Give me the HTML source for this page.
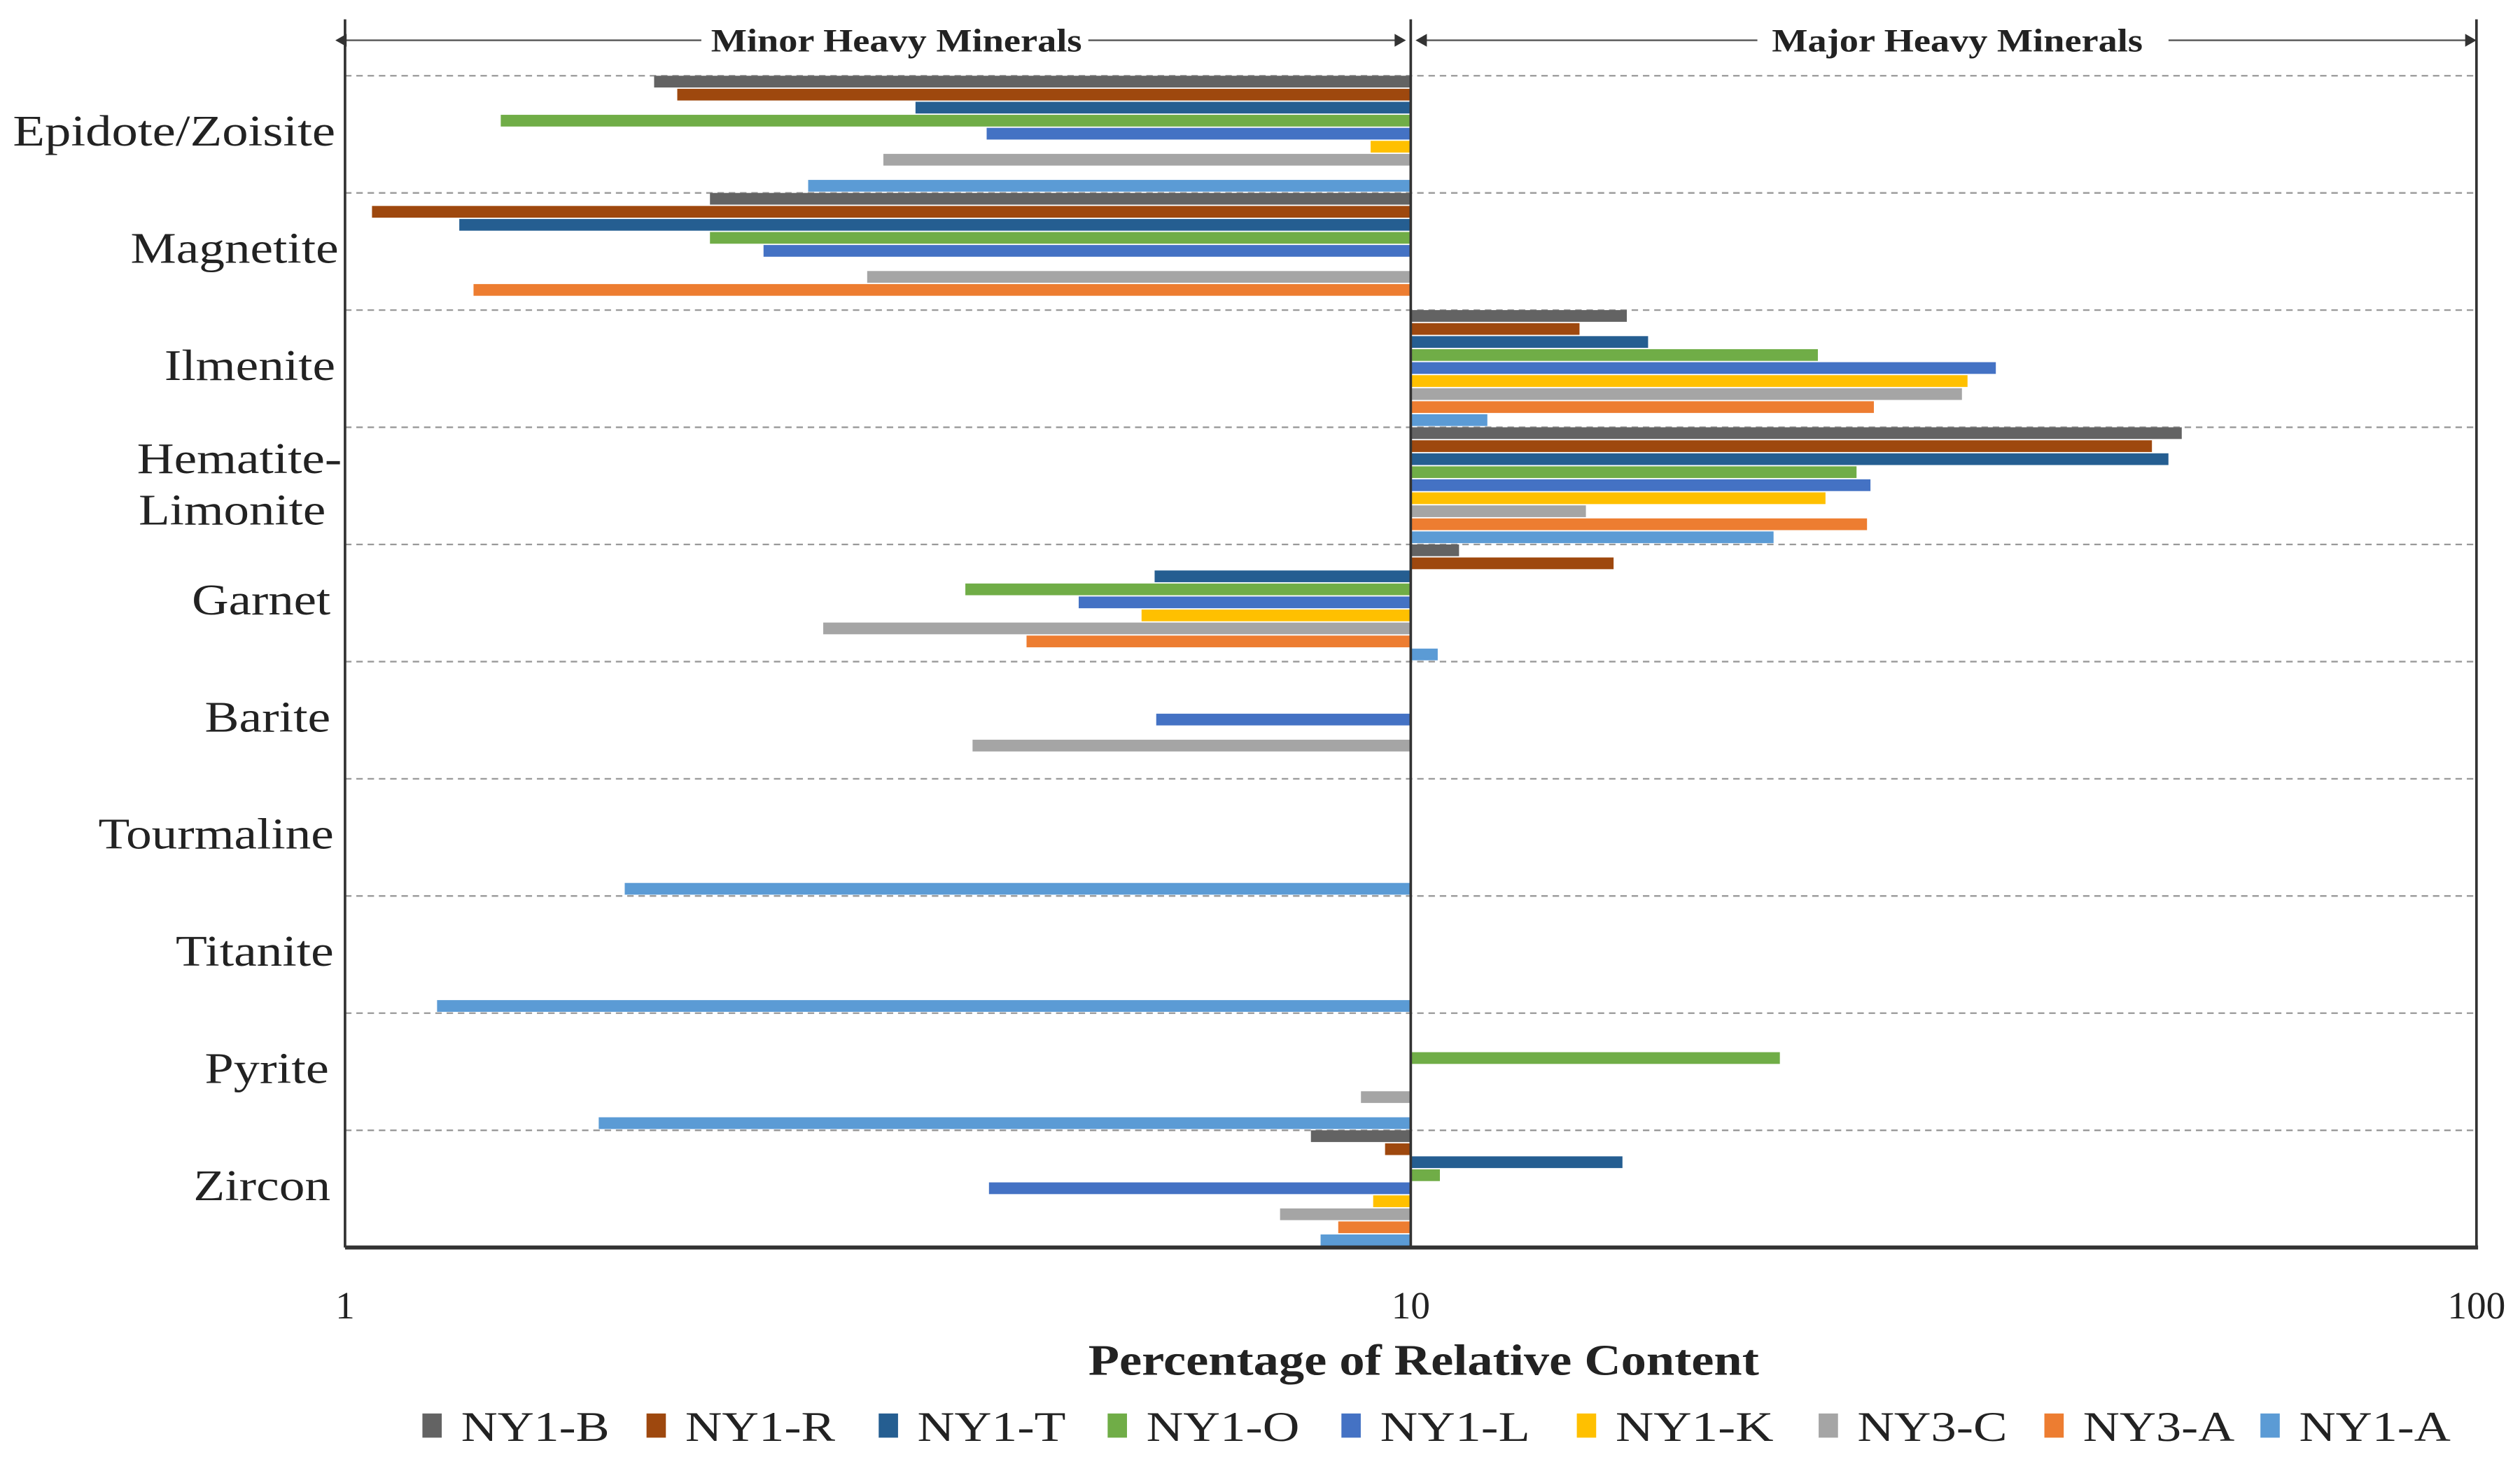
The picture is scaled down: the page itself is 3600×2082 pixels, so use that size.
<!DOCTYPE html>
<html><head><meta charset="utf-8"><style>
html,body{margin:0;padding:0;background:#fff;width:3600px;height:2082px;overflow:hidden}
svg{display:block}
text{font-family:"Liberation Serif",serif;fill:#222}
</style></head><body>
<svg id="chart" width="3600" height="2082" viewBox="0 0 1563 904" preserveAspectRatio="none" xmlns="http://www.w3.org/2000/svg">
<g id="grid"></g><g id="bars"></g><g id="axes"></g><g id="labels"></g><g id="legend"></g>
</svg>
<script>
const categories = ["Epidote/Zoisite","Magnetite","Ilmenite","Hematite-Limonite","Garnet","Barite","Tourmaline","Titanite","Pyrite","Zircon"];
const seriesNames = ["NY1-B","NY1-R","NY1-T","NY1-O","NY1-L","NY1-K","NY3-C","NY3-A","NY1-A"];
const seriesColors = ["#636363","#9e480e","#255e91","#70ad47","#4472c4","#ffc000","#a5a5a5","#ed7d31","#5b9bd5"];
const sNY1B = [1.95,2.2,15.95,52.9,11.1,null,null,null,null,8.06];
const sNY1R = [2.05,1.06,14.4,49.6,15.5,null,null,null,null,9.46];
const sNY1T = [3.43,1.28,16.7,51.4,5.75,null,null,null,null,15.8];
const sNY1O = [1.4,2.2,24.1,26.2,3.82,null,null,null,22.2,10.65];
const sNY1L = [4.0,2.47,35.4,27.0,4.88,5.77,null,null,null,4.02];
const sNY1K = [9.17,null,33.3,24.5,5.59,null,null,null,null,9.22];
const sNY3C = [3.2,3.09,32.9,14.6,2.81,3.88,null,null,8.98,7.54];
const sNY3A = [null,1.32,27.2,26.8,4.36,null,null,null,null,8.55];
const sNY1A = [2.72,null,11.8,21.9,10.6,null,1.83,1.22,1.73,8.23];
const allSeries = [sNY1B,sNY1R,sNY1T,sNY1O,sNY1L,sNY1K,sNY3C,sNY3A,sNY1A];
const xTicks = [1,10,100];

const NS="http://www.w3.org/2000/svg";
const L=214,R=1536,TOP=12,BOT=774,BAND0=47,BAND=72.7;
const xScale=v=>L+Math.log10(v)*(R-L)/2;
const barH=BAND/9;
function mk(tag,attrs,parent,txt){const e=document.createElementNS(NS,tag);for(const k in attrs)e.setAttribute(k,attrs[k]);if(txt!==undefined)e.textContent=txt;parent.appendChild(e);return e;}
const gGrid=document.getElementById('grid'),gBars=document.getElementById('bars'),gAxes=document.getElementById('axes'),gLab=document.getElementById('labels'),gLeg=document.getElementById('legend');

for(let i=0;i<categories.length;i++){
  const y=BAND0+i*BAND;
  const gl=mk('line',{x1:L,x2:R,y1:y,y2:y,stroke:'#999','stroke-width':1,'stroke-dasharray':'4,3'},gGrid);
  
  
}
const base=xScale(10);
allSeries.forEach((s,j)=>{
  s.forEach((v,i)=>{
    if(v==null)return;
    const x=xScale(v);
    const y=BAND0+i*BAND+j*barH;
    const r=mk('rect',{x:Math.min(x,base),y:y,width:Math.abs(x-base),height:barH-0.8,fill:seriesColors[j]},gBars);
    
    
  });
});
[[L,'left-axis'],[base,'center-axis'],[R,'right-axis']].forEach(([x,n])=>{
  const a=mk('line',{x1:x,x2:x,y1:TOP,y2:BOT,stroke:'#333','stroke-width':1.6},gAxes);
  
  
});
const xa=mk('line',{x1:L,x2:R+1,y1:BOT,y2:BOT,stroke:'#333','stroke-width':2.5},gAxes);


xTicks.forEach(t=>{
  const tx=mk('text',{x:xScale(t),y:818,'font-size':24,'text-anchor':'middle'},gLab,String(t));
  
  
});
const hdr=[[210,435],[675,870],[880,1090],[1345,1533]];
hdr.forEach((h,k)=>{
  const ln=mk('line',{x1:h[0],x2:h[1],y1:25,y2:25,stroke:'#555','stroke-width':1},gAxes);
  
  
});
[[208,1],[872,-1],[878,1],[1536,-1]].forEach(([x,d],k)=>{
  const p=mk('path',{d:`M${x} 25 l${d*7} -4 l0 8 z`,fill:'#333'},gAxes);
  
  
});
const h1=mk('text',{x:441,y:32,'font-size':20,'font-weight':'bold',textLength:230,lengthAdjust:'spacingAndGlyphs'},gLab,'Minor Heavy Minerals');


const h2=mk('text',{x:1099,y:32,'font-size':20,'font-weight':'bold',textLength:230,lengthAdjust:'spacingAndGlyphs'},gLab,'Major Heavy Minerals');


const catBox=[[8,200],[81,129],[102,106],null,[119,86],[127,78],[61,146],[109,98],[127,77],[120,85]];
categories.forEach((c,i)=>{
  const cy=BAND0+i*BAND+BAND/2;
  if(c==="Hematite-Limonite"){
    const a=mk('text',{x:85,y:cy-8,'font-size':27,textLength:127,lengthAdjust:'spacingAndGlyphs'},gLab,'Hematite-');
    
    
    const b=mk('text',{x:86,y:cy+24,'font-size':27,textLength:116,lengthAdjust:'spacingAndGlyphs'},gLab,'Limonite');
    
    
  } else {
    const t=mk('text',{x:catBox[i][0],y:cy+7,'font-size':27,textLength:catBox[i][1],lengthAdjust:'spacingAndGlyphs'},gLab,c);
    
    
  }
});
const at=mk('text',{x:675,y:853,'font-size':27,'font-weight':'bold',textLength:416,lengthAdjust:'spacingAndGlyphs'},gLab,'Percentage of Relative Content');


const legX=[262,401,545,687,832,978,1128,1268,1402];
const legW=[92,93,92,95,93,98,93,94,94];
seriesNames.forEach((n,j)=>{
  const g=mk('g',{},gLeg);
  
  
  mk('rect',{x:legX[j],y:877,width:12,height:15,fill:seriesColors[j]},g);
  mk('text',{x:legX[j]+24,y:894,'font-size':26,textLength:legW[j],lengthAdjust:'spacingAndGlyphs'},g,n);
});
</script>
</body></html>
